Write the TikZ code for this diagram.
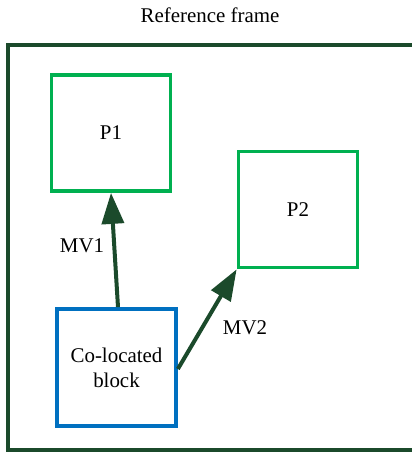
\documentclass[tikz,border=0pt]{standalone}
\usepackage{fontspec}
\setmainfont{Liberation Serif}
\usetikzlibrary{arrows.meta,positioning}
\definecolor{framegreen}{HTML}{1B4A2B}
\definecolor{predgreen}{HTML}{00B050}
\definecolor{blkblue}{HTML}{0070C0}
\tikzset{
	pbox/.style={draw=predgreen,line width=3.75bp,rectangle,align=center,minimum width=119bp,minimum height=116bp},
	cbox/.style={draw=blkblue,line width=3.75bp,rectangle,align=center,minimum width=119bp,minimum height=117bp},
	mv/.style={draw=framegreen,line width=4bp,-{Triangle[length=31bp,width=22bp]}},
	lbl/.style={inner sep=0pt}
}

\begin{document}
\begin{tikzpicture}[x=1bp,y=-1bp,font=\fontsize{21}{25}\selectfont]
			\useasboundingbox (0,0) rectangle (411,452);
			\draw[framegreen,line width=4.5bp] (430,45) -- (8,45) -- (8,450.5) -- (430,450.5);
			\node[lbl] (ttl) at (210,15) {Reference frame};
			
			\node[pbox] (p1) at (111,133) {P1};
			\node[pbox] (p2) at (298,209.5) {P2};
			\node[cbox] (blk) at (116.5,367.5) {Co-located\\block};
			\node[lbl] (mv1) at (82,246) {MV1};
			\node[lbl] (mv2) at (245,328) {MV2};
			
			\draw[mv] ([xshift=1.5bp]blk.north) -- (p1.south);
			\draw[mv] ([yshift=-1.5bp]blk.east) -- (p2.south west);
		\end{tikzpicture}
\end{document}
